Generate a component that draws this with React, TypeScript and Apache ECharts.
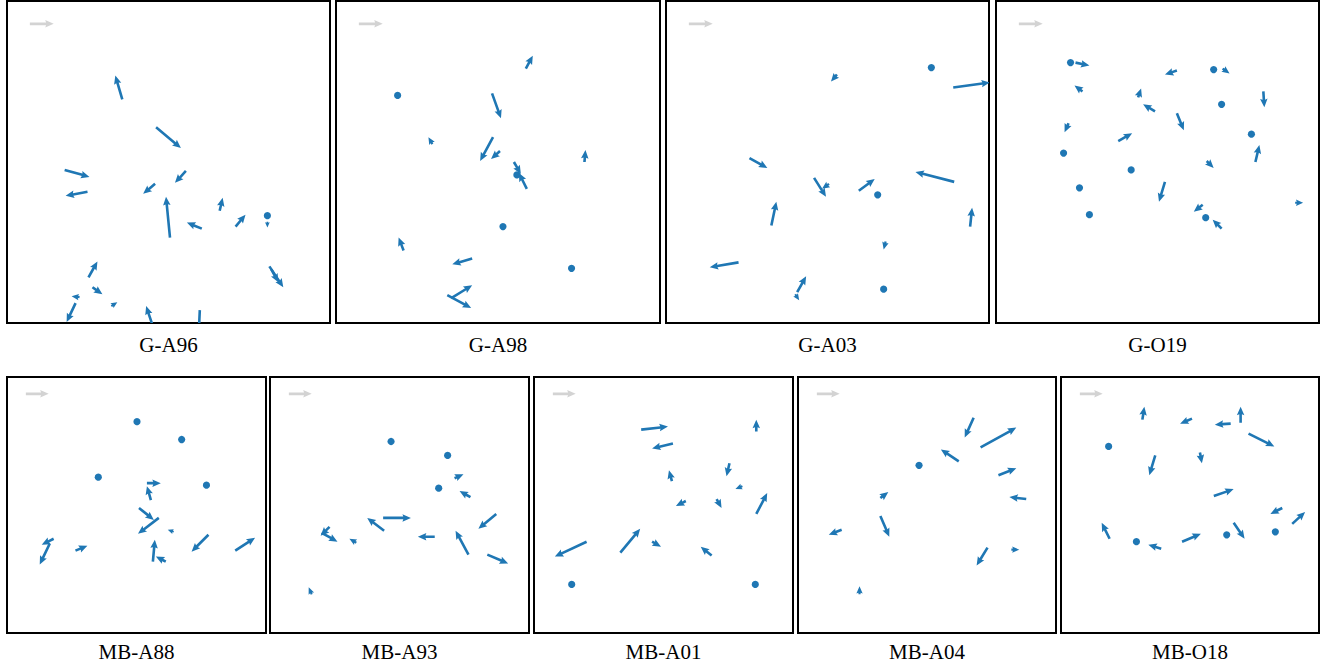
import React, { useEffect, useRef } from "react";
import * as echarts from "echarts";

// Panel titles
const PANEL_NAMES = ["G-A96", "G-A98", "G-A03", "G-O19", "MB-A88", "MB-A93", "MB-A01", "MB-A04", "MB-O18"];

// Quiver data per panel: [x, y, u, v] (y measured downward from the panel top)
const G_A96 = [
  [116, 99, -7, -24], [150, 127, 25, 21], [58, 170, 25, 7], [81, 192, -22, 4],
  [180, 171, -11, 12], [149, 184, -12, 10], [164, 238, -4, -41], [196, 229, -15, -6],
  [214, 211, 3, -13], [230, 227, 10, -12], [262, 216, 0, 0], [262, 222, 0, 6],
  [264, 267, 14, 21], [266, 270, 7, 13], [82, 278, 9, -16], [86, 288, 10, 7],
  [73, 298, -8, -1], [69, 304, -9, 19], [105, 307, 6, -4], [146, 325, -6, -18],
  [194, 311, -1, 22],
];
const G_A98 = [
  [191, 68, 7, -13], [62, 95, 0, 0], [157, 93, 9, 25], [97, 144, -4, -7],
  [158, 137, -13, 24], [165, 151, -9, 8], [179, 162, 7, 12], [182, 175, 0, 0],
  [192, 189, -8, -16], [250, 162, 1, -12], [168, 227, 0, 0], [68, 251, -5, -13],
  [137, 259, -20, 6], [237, 269, 0, 0], [116, 299, 21, -13], [112, 296, 24, 13],
];
const G_A03 = [
  [172, 74, -6, 7], [267, 67, 0, 0], [289, 87, 37, -5], [84, 158, 18, 10],
  [149, 178, 12, 19], [164, 184, -7, 5], [194, 191, 16, -12], [213, 195, 0, 0],
  [290, 182, -39, -10], [106, 226, 5, -24], [306, 227, 2, -19], [221, 242, -2, 8],
  [73, 263, -29, 5], [132, 293, 9, -16], [130, 295, 4, 6], [219, 290, 0, 0],
];
const G_O19 = [
  [75, 62, 0, 0], [80, 62, 14, 3], [182, 70, -12, 4], [219, 69, 0, 0],
  [228, 68, 7, 5], [87, 91, -8, -6], [143, 97, 3, -9], [160, 111, -12, -7],
  [227, 104, 0, 0], [269, 91, 1, 16], [182, 113, 7, 17], [73, 123, -4, 9],
  [123, 141, 14, -8], [257, 134, 0, 0], [68, 153, 0, 0], [261, 162, 4, -17],
  [212, 161, 7, 7], [136, 170, 0, 0], [170, 182, -6, 20], [84, 188, 0, 0],
  [94, 215, 0, 0], [208, 205, -9, 7], [211, 218, 0, 0], [227, 229, -9, -9],
  [301, 203, 8, 0],
];
const MB_A88 = [
  [131, 45, 0, 0], [176, 63, 0, 0], [92, 101, 0, 0], [201, 109, 0, 0],
  [141, 107, 14, 0], [145, 124, -4, -14], [133, 132, 15, 12], [153, 142, -21, 16],
  [168, 156, -6, -2], [47, 163, -12, 6], [43, 168, -10, 21], [69, 175, 12, -5],
  [147, 186, 2, -22], [160, 186, -10, -5], [203, 159, -17, 17], [230, 175, 20, -13],
];
const MB_A93 = [
  [122, 65, 0, 0], [179, 79, 0, 0], [170, 112, 0, 0], [186, 102, 9, -4],
  [202, 121, -11, -6], [228, 138, -18, 15], [114, 142, 28, 0], [115, 155, -17, -13],
  [166, 161, -17, 0], [200, 179, -13, -24], [219, 179, 21, 9], [60, 151, -9, 9],
  [52, 157, 16, 9], [87, 167, -7, -4], [42, 219, -3, -7],
];
const MB_A01 = [
  [108, 53, 27, -3], [140, 67, -21, 5], [224, 55, 0, -12], [139, 105, -3, -11],
  [197, 87, -3, 13], [210, 110, -7, 3], [153, 125, -10, 5], [184, 123, 5, 9],
  [224, 138, 11, -21], [53, 166, -32, 15], [87, 177, 20, -24], [119, 166, 9, 5],
  [179, 180, -11, -9], [38, 209, 0, 0], [223, 209, 0, 0],
];
const MB_A04 = [
  [177, 41, -9, 20], [184, 71, 36, -20], [162, 85, -18, -12], [122, 89, 0, 0],
  [202, 99, 18, -7], [230, 123, -17, -2], [83, 122, 8, -6], [83, 140, 9, 21],
  [44, 154, -13, 5], [191, 172, -11, 18], [215, 174, 8, 0], [62, 219, 0, -8],
];
const MB_O18 = [
  [82, 43, 2, -13], [132, 42, -12, 5], [171, 47, -16, 1], [181, 46, 0, -16],
  [189, 57, 26, 13], [48, 70, 0, 0], [95, 79, -6, 20], [140, 76, 2, 11],
  [154, 120, 20, -7], [223, 132, -12, 6], [233, 148, 13, -12], [49, 163, -8, -16],
  [76, 166, 0, 0], [101, 173, -13, -4], [122, 166, 19, -8], [167, 159, 0, 0],
  [174, 147, 11, 16], [216, 156, 0, 0],
];
const PANEL_DATA = [G_A96, G_A98, G_A03, G_O19, MB_A88, MB_A93, MB_A01, MB_A04, MB_O18];

// Reference (key) arrow per row
const KEY_TOP = [[23, 23, 24, 0]];
const KEY_BOTTOM = [[19, 17, 23, 0]];

// Panel frames: [left, top, width, height]
const FRAMES = [
  [6, 0, 325, 324], [335, 0, 326, 324], [665, 0, 325, 324], [995, 0, 325, 324],
  [6, 376, 261, 258], [269, 376, 261, 258], [533, 376, 261, 258], [797, 376, 260, 258], [1060, 376, 260, 258],
];

const ARROW_COLOR = "#1f77b4";
const KEY_COLOR = "#d3d3d3";
const SHAFT = 2.6;
const HEAD_W = 7.5;
const HEAD_L = 8.5;
const HEAD_AX = 7.6;
const MIN_FULL = 9.5;

function arrowShape(p0: number[], p1: number[]) {
  const dx = p1[0] - p0[0];
  const dy = p1[1] - p0[1];
  const L = Math.hypot(dx, dy);
  if (L < 0.5) {
    return { type: "circle", shape: { cx: p0[0], cy: p0[1], r: 3.6 } };
  }
  const ux = dx / L, uy = dy / L;
  const nx = -uy, ny = ux;
  const s = L < MIN_FULL ? L / MIN_FULL : 1;
  const sw = (SHAFT * s) / 2, hw = (HEAD_W * s) / 2, hl = HEAD_L * s, ha = HEAD_AX * s;
  const local = [[0, -sw], [L - ha, -sw], [L - hl, -hw], [L, 0], [L - hl, hw], [L - ha, sw], [0, sw]];
  const pts = local.map(([a, b]) => [p0[0] + ux * a + nx * b, p0[1] + uy * a + ny * b]);
  return { type: "polygon", shape: { points: pts } };
}

function makeRenderer(color: string) {
  return (params: any, api: any) => {
    const x = api.value(0), y = api.value(1), u = api.value(2), v = api.value(3);
    const p0 = api.coord([x, y]);
    const p1 = api.coord([x + u, y + v]);
    const el: any = arrowShape(p0, p1);
    el.style = { fill: color, stroke: null };
    return el;
  };
}

export default function App() {
  const ref = useRef<HTMLDivElement>(null);
  useEffect(() => {
    if (!ref.current) return;
    const chart = echarts.init(ref.current, undefined, { renderer: "svg" });
    const grids: any[] = [];
    const xAxes: any[] = [];
    const yAxes: any[] = [];
    const series: any[] = [];
    const titles: any[] = [];
    FRAMES.forEach((f, i) => {
      const [l, t, w, h] = f;
      grids.push({
        left: l + 1, top: t + 1, width: w - 2, height: h - 2,
        show: true, borderColor: "#000", borderWidth: 2, backgroundColor: "#fff",
        containLabel: false,
      });
      xAxes.push({ type: "value", gridIndex: i, min: 0, max: w, show: false });
      yAxes.push({ type: "value", gridIndex: i, min: 0, max: h, inverse: true, show: false });
      series.push({
        type: "custom", xAxisIndex: i, yAxisIndex: i, clip: true, silent: true,
        renderItem: makeRenderer(KEY_COLOR), data: i < 4 ? KEY_TOP : KEY_BOTTOM,
      });
      series.push({
        type: "custom", xAxisIndex: i, yAxisIndex: i, clip: true, silent: true,
        renderItem: makeRenderer(ARROW_COLOR), data: PANEL_DATA[i],
      });
      titles.push({
        text: PANEL_NAMES[i], left: l + w / 2, top: i < 4 ? 333 : 640, textAlign: "center", padding: 0,
        textStyle: { fontFamily: "Liberation Serif", fontSize: 21, fontWeight: "normal", color: "#000", lineHeight: 24 },
      });
    });
    chart.setOption({
      animation: false,
      backgroundColor: "#fff",
      title: titles,
      grid: grids,
      xAxis: xAxes,
      yAxis: yAxes,
      series,
    });
    return () => chart.dispose();
  }, []);
  return <div ref={ref} style={{ position: "fixed", left: 0, top: 0, width: 1327, height: 671 }} />;
}
